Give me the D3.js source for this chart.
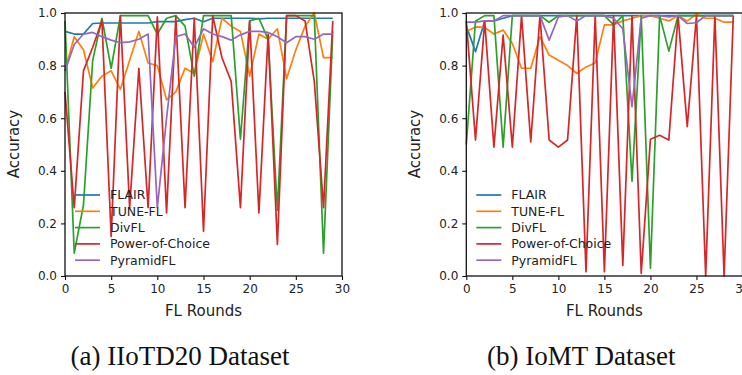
<!DOCTYPE html>
<html>
<head>
<meta charset="utf-8">
<script src="https://cdn.jsdelivr.net/npm/d3@7"></script>
<style>
  body { margin: 0; background: #fff; }
  text { font-family: "DejaVu Sans", sans-serif; fill: #222; }
  .caption { font-family: "Liberation Serif", "Times New Roman", serif; fill: #111; }
</style>
</head>
<body>
<div id="my_dataviz"></div>
<script>
// FL rounds on the x axis
const rounds = d3.range(30);
const seriesNames = ["FLAIR", "TUNE-FL", "DivFL", "Power-of-Choice", "PyramidFL"];
const seriesColors = ["#1f77b4", "#ff7f0e", "#2ca02c", "#d62728", "#9467bd"];
const xTicks = [0, 5, 10, 15, 20, 25, 30];
const yTicks = [0.0, 0.2, 0.4, 0.6, 0.8, 1.0];

// (a) IIoTD20
const iiotFlair = [0.93,0.92,0.92,0.96,0.962,0.962,0.962,0.962,0.962,0.962,0.967,0.967,0.967,0.975,0.98,0.967,0.98,0.98,0.98,0.98,0.98,0.978,0.98,0.98,0.98,0.98,0.98,0.98,0.98,0.98];
const iiotTune = [0.78,0.91,0.86,0.715,0.76,0.78,0.71,0.82,0.93,0.81,0.80,0.67,0.70,0.79,0.77,0.92,0.815,0.98,0.95,0.93,0.76,0.92,0.90,0.94,0.75,0.86,0.95,1.0,0.83,0.83];
const iiotDiv = [0.97,0.087,0.27,0.82,0.98,0.79,0.99,0.99,0.99,0.99,0.92,0.98,0.99,0.95,0.76,0.99,0.99,0.99,0.99,0.52,0.97,0.98,0.90,0.25,0.99,0.99,0.99,0.99,0.087,0.93];
const iiotPower = [0.70,0.26,0.78,0.87,0.97,0.15,0.99,0.26,0.79,0.26,0.985,0.24,0.985,0.26,0.98,0.17,0.99,0.83,0.74,0.26,0.97,0.24,0.92,0.12,0.99,0.99,0.97,0.74,0.26,0.97];
const iiotPyramid = [0.78,0.88,0.92,0.926,0.91,0.897,0.887,0.89,0.90,0.92,0.26,0.60,0.91,0.92,0.87,0.94,0.92,0.91,0.897,0.917,0.93,0.93,0.926,0.91,0.887,0.91,0.91,0.90,0.92,0.92];

// (b) IoMT
const iomtFlair = [0.95,0.853,0.97,0.97,0.98,0.99,0.99,0.99,0.99,0.99,0.99,0.99,0.99,0.99,0.99,0.99,0.99,0.99,0.99,0.99,0.99,0.99,0.99,0.99,0.99,0.99,0.99,0.99,0.99,0.99];
const iomtTune = [0.93,0.947,0.945,0.92,0.935,0.884,0.79,0.79,0.91,0.84,0.82,0.80,0.77,0.795,0.81,0.955,0.955,0.97,0.98,0.99,0.99,0.98,0.97,0.99,0.97,0.995,0.98,0.98,0.965,0.965];
const iomtDiv = [0.50,0.97,0.99,0.99,0.49,0.99,0.99,0.99,0.99,0.965,0.99,0.99,0.99,0.99,0.99,0.99,0.955,0.99,0.36,0.99,0.03,0.99,0.855,0.99,0.99,0.99,0.99,0.99,0.99,0.99];
const iomtPower = [0.97,0.517,0.97,0.49,0.916,0.49,0.99,0.51,0.99,0.517,0.49,0.517,0.99,0.016,0.99,0.016,0.99,0.04,0.99,0.01,0.52,0.535,0.517,0.99,0.568,0.99,0.0,0.99,0.0,0.99];
const iomtPyramid = [0.965,0.965,0.97,0.97,0.99,0.99,0.99,0.99,0.99,0.897,0.985,0.99,0.97,0.99,0.99,0.99,0.98,0.94,0.644,0.98,0.99,0.99,0.985,0.99,0.96,0.963,0.99,0.99,0.99,0.99];

const width = 742, height = 375;

const svg = d3.select("#my_dataviz")
  .append("svg")
    .attr("width", width)
    .attr("height", height);

svg.append("rect").attr("width", width).attr("height", height).attr("fill", "#fff");

function drawPanel(left, right, series, caption) {
  const x = d3.scaleLinear().domain([0, 30]).range([left, right]);
  const y = d3.scaleLinear().domain([0, 1]).range([276, 13]);
  const g = svg.append("g");

  // lines
  const line = d3.line()
    .x((d, i) => x(rounds[i]))
    .y(d => y(d));
  series.forEach((vals, k) => {
    g.append("path")
      .datum(vals)
      .attr("fill", "none")
      .attr("stroke", seriesColors[k])
      .attr("stroke-width", 1.7)
      .attr("stroke-linejoin", "round")
      .attr("d", line);
  });

  // axes
  const xAxis = g.append("g")
    .attr("transform", "translate(0,276)")
    .call(d3.axisBottom(x).tickValues(xTicks).tickSize(4).tickPadding(4).tickFormat(d3.format("d")));
  const yAxis = g.append("g")
    .attr("transform", "translate(" + left + ",0)")
    .call(d3.axisLeft(y).tickValues(yTicks).tickSize(4).tickPadding(4).tickFormat(d3.format(".1f")));
  [xAxis, yAxis].forEach(a => {
    a.select(".domain").remove();
    a.selectAll(".tick line").attr("stroke", "#111").attr("stroke-width", 1.1);
    a.selectAll(".tick text").attr("font-size", 12).attr("fill", "#222")
      .attr("font-family", "DejaVu Sans, sans-serif");
  });

  // spines
  g.append("rect")
    .attr("x", left).attr("y", 13)
    .attr("width", right - left).attr("height", 263)
    .attr("fill", "none").attr("stroke", "#111").attr("stroke-width", 1.3);

  // legend
  seriesNames.forEach((name, k) => {
    const ly = 195 + k * 16.3;
    g.append("line")
      .attr("x1", left + 10).attr("x2", left + 35)
      .attr("y1", ly).attr("y2", ly)
      .attr("stroke", seriesColors[k]).attr("stroke-width", 1.7);
    g.append("text")
      .attr("x", left + 45).attr("y", ly)
      .attr("dy", "0.35em")
      .attr("font-size", 12.5)
      .text(name);
  });

  // labels
  g.append("text")
    .attr("transform", "translate(" + (left - 46) + ",144) rotate(-90)")
    .attr("text-anchor", "middle")
    .attr("font-size", 15)
    .text("Accuracy");
  g.append("text")
    .attr("x", (left + right) / 2).attr("y", 311)
    .attr("dy", "0.35em")
    .attr("text-anchor", "middle")
    .attr("font-size", 15)
    .text("FL Rounds");
  g.append("text")
    .attr("class", "caption")
    .attr("x", left + 115).attr("y", 356)
    .attr("dy", "0.35em")
    .attr("text-anchor", "middle")
    .attr("font-size", 27)
    .text(caption);
}

drawPanel(65, 342, [iiotFlair, iiotTune, iiotDiv, iiotPower, iiotPyramid], "(a) IIoTD20 Dataset");
drawPanel(466.3, 742.5, [iomtFlair, iomtTune, iomtDiv, iomtPower, iomtPyramid], "(b) IoMT Dataset");
</script>
</body>
</html>
